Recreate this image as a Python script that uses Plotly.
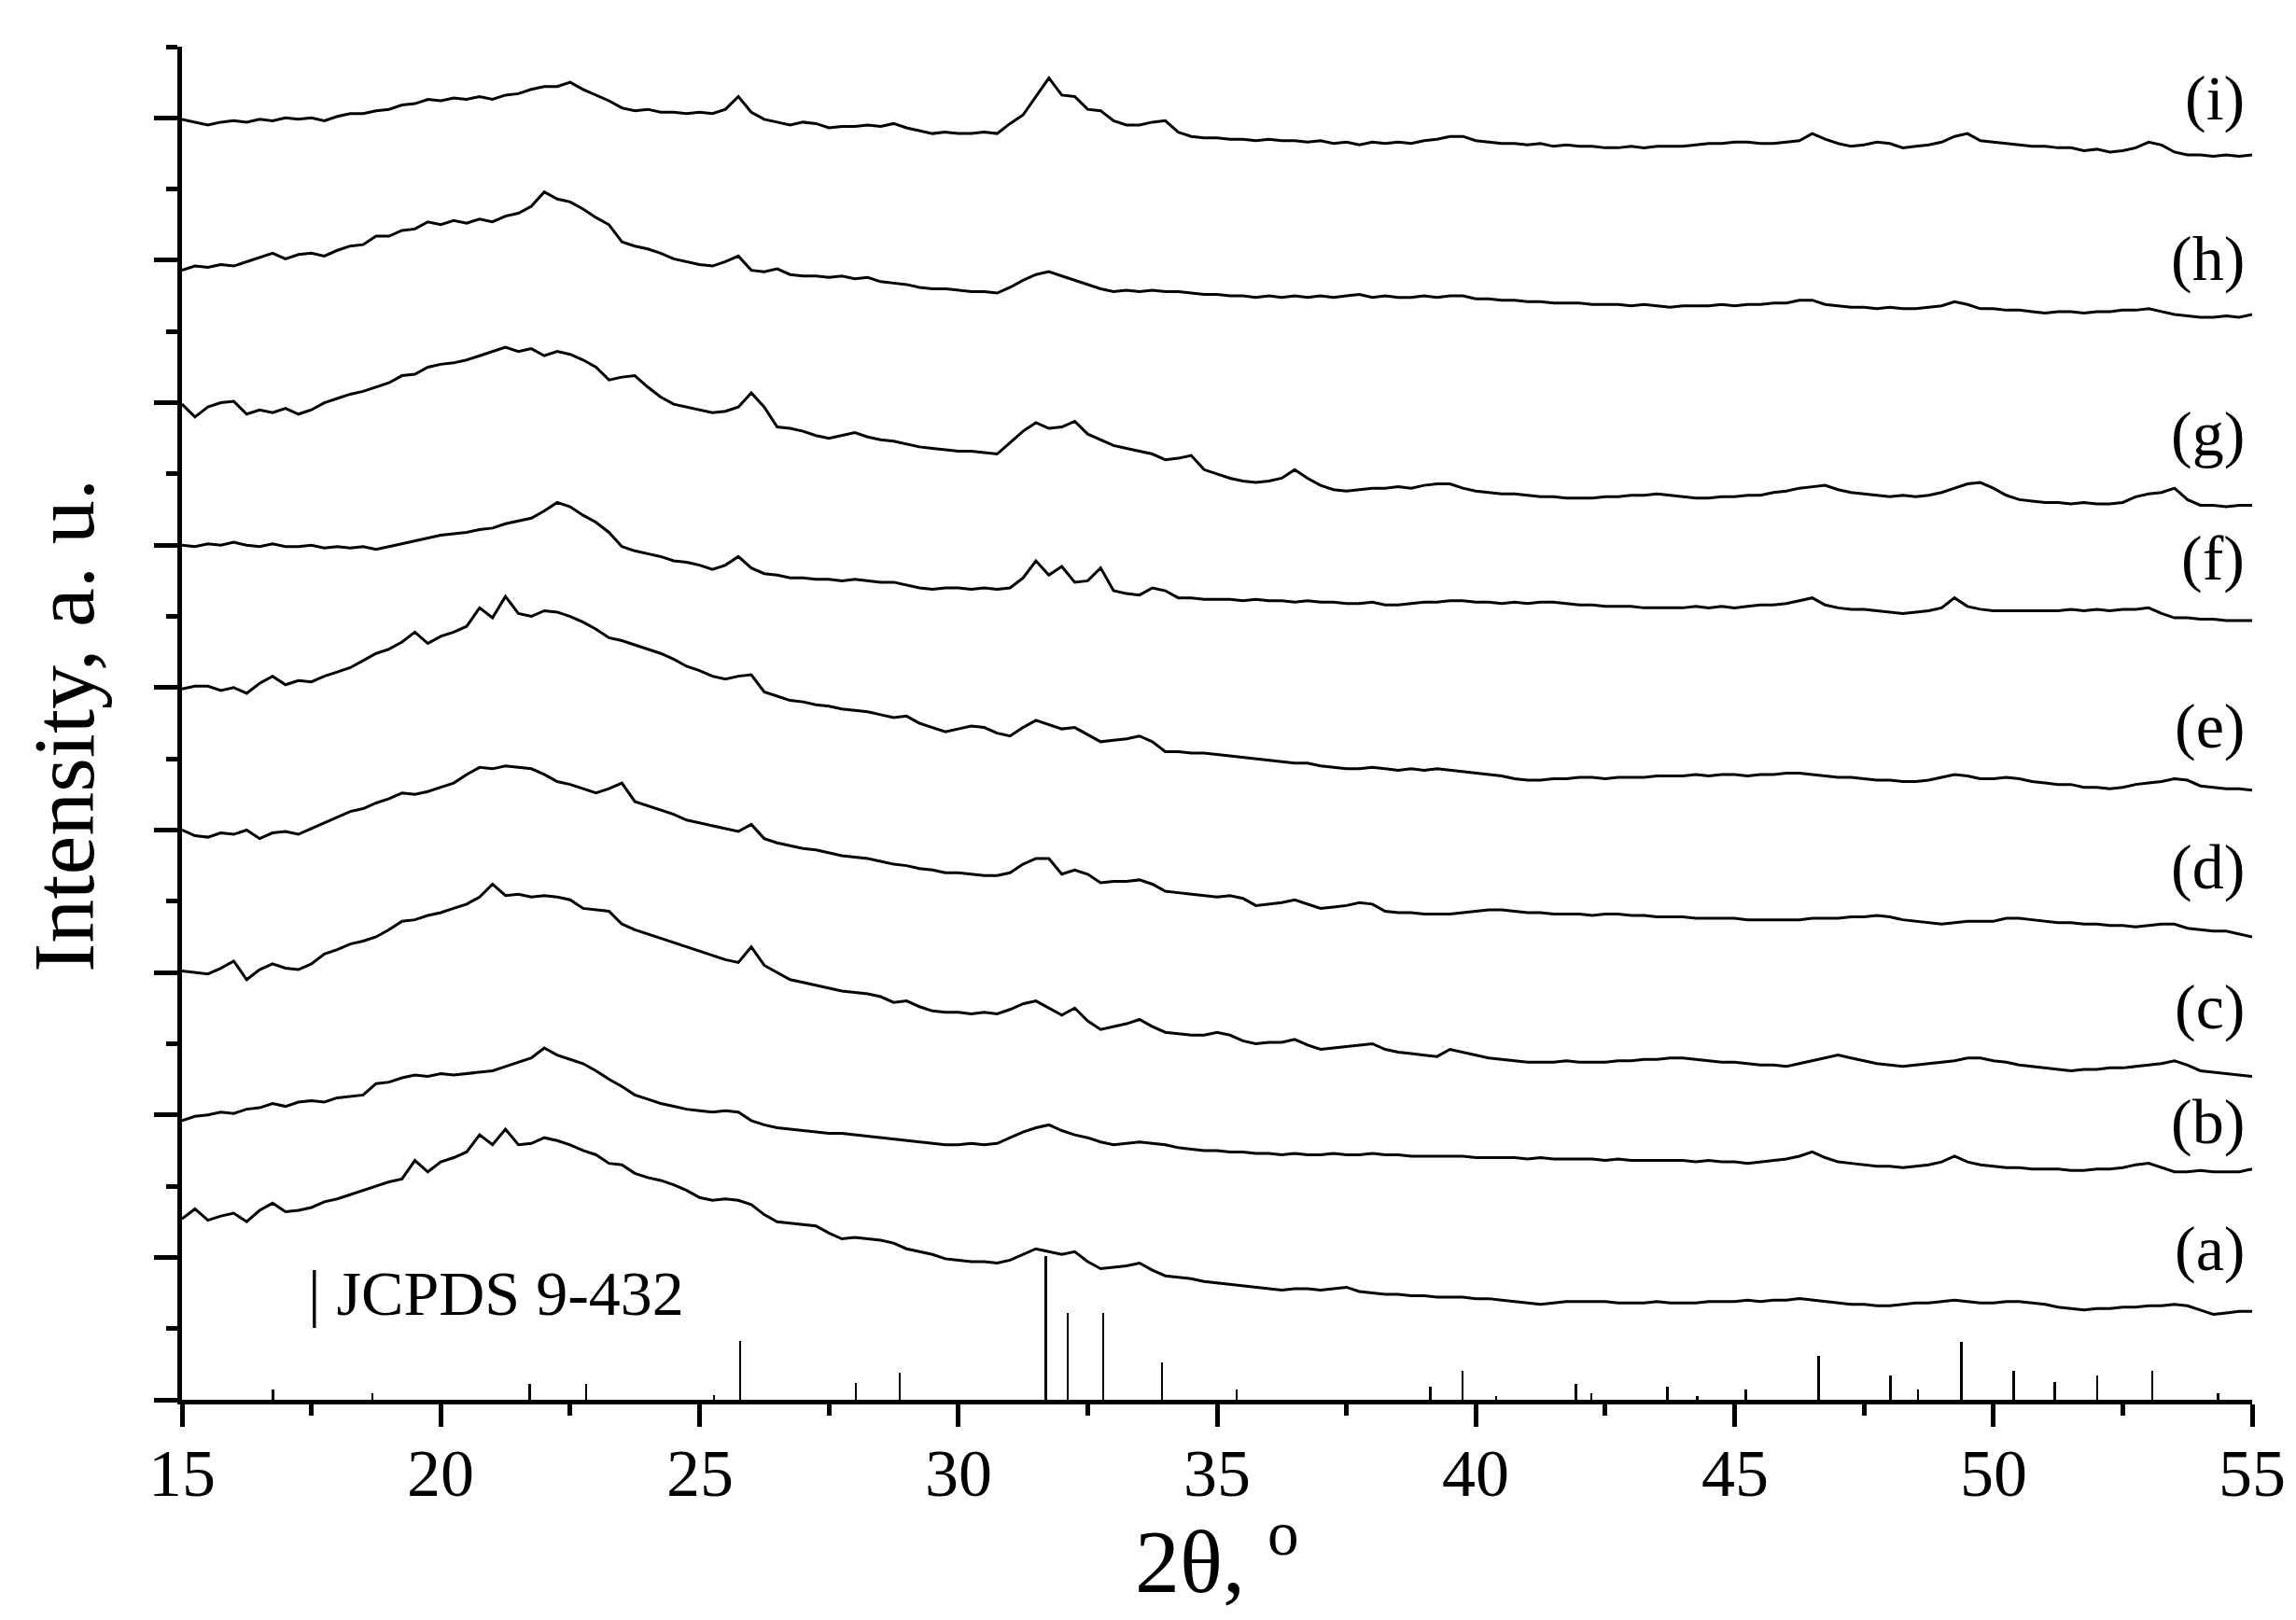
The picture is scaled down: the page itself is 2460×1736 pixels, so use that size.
import plotly.graph_objects as go

# 2-theta sampling grid (degrees)
two_theta = [
    15.00, 15.25, 15.50, 15.75, 16.00, 16.25, 16.50, 16.75, 17.00, 17.25, 17.50, 17.75, 18.00, 18.25, 18.50, 18.75, 19.00, 19.25, 19.50, 19.75,
    20.00, 20.25, 20.50, 20.75, 21.00, 21.25, 21.50, 21.75, 22.00, 22.25, 22.50, 22.75, 23.00, 23.25, 23.50, 23.75, 24.00, 24.25, 24.50, 24.75,
    25.00, 25.25, 25.50, 25.75, 26.00, 26.25, 26.50, 26.75, 27.00, 27.25, 27.50, 27.75, 28.00, 28.25, 28.50, 28.75, 29.00, 29.25, 29.50, 29.75,
    30.00, 30.25, 30.50, 30.75, 31.00, 31.25, 31.50, 31.75, 32.00, 32.25, 32.50, 32.75, 33.00, 33.25, 33.50, 33.75, 34.00, 34.25, 34.50, 34.75,
    35.00, 35.25, 35.50, 35.75, 36.00, 36.25, 36.50, 36.75, 37.00, 37.25, 37.50, 37.75, 38.00, 38.25, 38.50, 38.75, 39.00, 39.25, 39.50, 39.75,
    40.00, 40.25, 40.50, 40.75, 41.00, 41.25, 41.50, 41.75, 42.00, 42.25, 42.50, 42.75, 43.00, 43.25, 43.50, 43.75, 44.00, 44.25, 44.50, 44.75,
    45.00, 45.25, 45.50, 45.75, 46.00, 46.25, 46.50, 46.75, 47.00, 47.25, 47.50, 47.75, 48.00, 48.25, 48.50, 48.75, 49.00, 49.25, 49.50, 49.75,
    50.00, 50.25, 50.50, 50.75, 51.00, 51.25, 51.50, 51.75, 52.00, 52.25, 52.50, 52.75, 53.00, 53.25, 53.50, 53.75, 54.00, 54.25, 54.50, 54.75,
    55.00,
]

# Offset intensity patterns (a.u.)
curve_a = [
    1.27, 1.34, 1.26, 1.29, 1.31, 1.25, 1.33, 1.38, 1.32, 1.33, 1.35, 1.39, 1.41, 1.44, 1.47, 1.50, 1.53, 1.55, 1.68, 1.60,
    1.67, 1.70, 1.74, 1.86, 1.79, 1.90, 1.79, 1.80, 1.84, 1.82, 1.79, 1.75, 1.72, 1.66, 1.65, 1.59, 1.56, 1.54, 1.51, 1.47,
    1.42, 1.40, 1.41, 1.40, 1.37, 1.30, 1.25, 1.24, 1.23, 1.22, 1.17, 1.13, 1.14, 1.13, 1.12, 1.10, 1.06, 1.04, 1.02, 0.99,
    0.98, 0.97, 0.97, 0.96, 0.98, 1.02, 1.06, 1.04, 1.02, 1.04, 0.97, 0.92, 0.93, 0.94, 0.96, 0.91, 0.87, 0.86, 0.85, 0.83,
    0.82, 0.81, 0.80, 0.79, 0.78, 0.77, 0.78, 0.78, 0.77, 0.78, 0.79, 0.76, 0.75, 0.74, 0.74, 0.73, 0.73, 0.72, 0.72, 0.72,
    0.71, 0.71, 0.70, 0.69, 0.68, 0.67, 0.68, 0.69, 0.69, 0.69, 0.69, 0.68, 0.68, 0.68, 0.69, 0.68, 0.68, 0.68, 0.69, 0.69,
    0.69, 0.70, 0.69, 0.70, 0.70, 0.71, 0.70, 0.69, 0.68, 0.67, 0.67, 0.66, 0.66, 0.67, 0.68, 0.68, 0.69, 0.70, 0.69, 0.68,
    0.68, 0.69, 0.69, 0.68, 0.67, 0.65, 0.64, 0.63, 0.64, 0.64, 0.65, 0.65, 0.66, 0.66, 0.67, 0.66, 0.63, 0.60, 0.61, 0.62,
    0.62,
]
curve_b = [
    1.96, 1.99, 2.00, 2.02, 2.01, 2.04, 2.05, 2.08, 2.06, 2.09, 2.10, 2.09, 2.12, 2.13, 2.14, 2.22, 2.23, 2.26, 2.28, 2.27,
    2.29, 2.28, 2.29, 2.30, 2.31, 2.34, 2.37, 2.40, 2.47, 2.42, 2.39, 2.36, 2.31, 2.25, 2.20, 2.14, 2.11, 2.08, 2.06, 2.04,
    2.03, 2.02, 2.03, 2.02, 1.96, 1.93, 1.91, 1.90, 1.89, 1.88, 1.87, 1.87, 1.86, 1.85, 1.84, 1.83, 1.82, 1.81, 1.80, 1.79,
    1.79, 1.80, 1.79, 1.80, 1.84, 1.88, 1.91, 1.93, 1.89, 1.86, 1.84, 1.81, 1.79, 1.80, 1.81, 1.80, 1.79, 1.77, 1.76, 1.75,
    1.75, 1.74, 1.74, 1.73, 1.73, 1.72, 1.73, 1.72, 1.72, 1.73, 1.72, 1.72, 1.73, 1.72, 1.72, 1.71, 1.71, 1.71, 1.71, 1.71,
    1.70, 1.70, 1.70, 1.70, 1.69, 1.70, 1.69, 1.69, 1.69, 1.69, 1.68, 1.69, 1.68, 1.68, 1.68, 1.68, 1.68, 1.67, 1.68, 1.67,
    1.67, 1.66, 1.67, 1.68, 1.69, 1.71, 1.74, 1.70, 1.67, 1.66, 1.65, 1.64, 1.64, 1.63, 1.64, 1.65, 1.67, 1.71, 1.67, 1.65,
    1.64, 1.63, 1.63, 1.62, 1.62, 1.62, 1.61, 1.61, 1.62, 1.62, 1.63, 1.65, 1.66, 1.63, 1.60, 1.60, 1.61, 1.60, 1.60, 1.60,
    1.62,
]
curve_c = [
    3.01, 3.00, 2.99, 3.03, 3.08, 2.95, 3.02, 3.06, 3.03, 3.02, 3.06, 3.13, 3.16, 3.20, 3.22, 3.25, 3.30, 3.36, 3.37, 3.40,
    3.42, 3.45, 3.48, 3.53, 3.62, 3.54, 3.55, 3.53, 3.54, 3.53, 3.51, 3.45, 3.44, 3.43, 3.34, 3.30, 3.27, 3.24, 3.21, 3.18,
    3.15, 3.12, 3.09, 3.07, 3.18, 3.05, 3.00, 2.95, 2.93, 2.91, 2.89, 2.87, 2.86, 2.85, 2.83, 2.79, 2.80, 2.76, 2.73, 2.72,
    2.72, 2.71, 2.72, 2.71, 2.74, 2.78, 2.80, 2.75, 2.70, 2.75, 2.66, 2.60, 2.62, 2.64, 2.67, 2.62, 2.58, 2.57, 2.56, 2.56,
    2.58, 2.56, 2.52, 2.50, 2.51, 2.51, 2.53, 2.49, 2.46, 2.47, 2.48, 2.49, 2.50, 2.46, 2.44, 2.43, 2.42, 2.41, 2.46, 2.44,
    2.42, 2.40, 2.39, 2.38, 2.37, 2.37, 2.37, 2.38, 2.37, 2.37, 2.37, 2.38, 2.38, 2.39, 2.39, 2.40, 2.40, 2.39, 2.38, 2.37,
    2.37, 2.36, 2.35, 2.35, 2.34, 2.36, 2.38, 2.40, 2.42, 2.40, 2.38, 2.36, 2.35, 2.34, 2.35, 2.36, 2.37, 2.38, 2.40, 2.40,
    2.38, 2.37, 2.35, 2.34, 2.33, 2.32, 2.31, 2.32, 2.32, 2.33, 2.33, 2.34, 2.35, 2.36, 2.38, 2.35, 2.31, 2.30, 2.29, 2.28,
    2.27,
]
curve_d = [
    4.00, 3.96, 3.95, 3.98, 3.97, 4.00, 3.94, 3.98, 3.99, 3.97, 4.01, 4.05, 4.09, 4.13, 4.15, 4.19, 4.22, 4.26, 4.25, 4.27,
    4.30, 4.33, 4.39, 4.44, 4.43, 4.45, 4.44, 4.43, 4.39, 4.34, 4.32, 4.29, 4.26, 4.29, 4.33, 4.20, 4.17, 4.14, 4.11, 4.07,
    4.05, 4.03, 4.01, 3.99, 4.04, 3.94, 3.91, 3.89, 3.87, 3.86, 3.84, 3.82, 3.81, 3.80, 3.78, 3.76, 3.75, 3.73, 3.72, 3.70,
    3.70, 3.69, 3.68, 3.68, 3.70, 3.76, 3.80, 3.80, 3.69, 3.72, 3.69, 3.63, 3.64, 3.64, 3.65, 3.62, 3.57, 3.56, 3.55, 3.54,
    3.53, 3.54, 3.52, 3.47, 3.48, 3.49, 3.51, 3.48, 3.45, 3.46, 3.47, 3.49, 3.48, 3.43, 3.42, 3.42, 3.41, 3.41, 3.41, 3.42,
    3.43, 3.44, 3.44, 3.43, 3.42, 3.42, 3.41, 3.41, 3.41, 3.40, 3.41, 3.41, 3.40, 3.40, 3.39, 3.39, 3.39, 3.38, 3.38, 3.38,
    3.38, 3.37, 3.37, 3.37, 3.37, 3.37, 3.38, 3.38, 3.38, 3.39, 3.39, 3.40, 3.39, 3.37, 3.36, 3.35, 3.34, 3.35, 3.36, 3.36,
    3.36, 3.38, 3.38, 3.37, 3.36, 3.35, 3.35, 3.34, 3.34, 3.33, 3.33, 3.32, 3.33, 3.34, 3.34, 3.31, 3.30, 3.29, 3.29, 3.27,
    3.25,
]
curve_e = [
    4.99, 5.01, 5.01, 4.98, 5.00, 4.96, 5.03, 5.08, 5.02, 5.05, 5.04, 5.08, 5.11, 5.14, 5.19, 5.24, 5.27, 5.32, 5.39, 5.31,
    5.36, 5.39, 5.43, 5.56, 5.49, 5.64, 5.52, 5.50, 5.54, 5.53, 5.50, 5.46, 5.41, 5.35, 5.33, 5.30, 5.27, 5.24, 5.20, 5.15,
    5.12, 5.08, 5.06, 5.08, 5.09, 4.97, 4.94, 4.91, 4.90, 4.88, 4.87, 4.85, 4.84, 4.83, 4.81, 4.79, 4.80, 4.75, 4.72, 4.69,
    4.71, 4.73, 4.72, 4.68, 4.66, 4.72, 4.77, 4.74, 4.71, 4.72, 4.67, 4.62, 4.63, 4.64, 4.66, 4.62, 4.55, 4.55, 4.54, 4.54,
    4.53, 4.52, 4.51, 4.50, 4.49, 4.48, 4.47, 4.47, 4.45, 4.44, 4.43, 4.43, 4.44, 4.43, 4.42, 4.43, 4.42, 4.43, 4.42, 4.41,
    4.40, 4.39, 4.38, 4.36, 4.35, 4.35, 4.36, 4.36, 4.37, 4.37, 4.36, 4.37, 4.37, 4.37, 4.38, 4.38, 4.38, 4.39, 4.38, 4.39,
    4.39, 4.38, 4.39, 4.39, 4.40, 4.40, 4.39, 4.38, 4.37, 4.37, 4.36, 4.35, 4.35, 4.34, 4.34, 4.35, 4.37, 4.39, 4.38, 4.36,
    4.36, 4.37, 4.36, 4.34, 4.33, 4.32, 4.32, 4.30, 4.30, 4.29, 4.30, 4.32, 4.33, 4.34, 4.36, 4.35, 4.31, 4.30, 4.29, 4.29,
    4.28,
]
curve_f = [
    6.00, 5.99, 6.01, 6.00, 6.02, 6.00, 5.99, 6.01, 5.99, 5.99, 6.00, 5.98, 5.99, 5.98, 5.99, 5.97, 5.99, 6.01, 6.03, 6.05,
    6.07, 6.08, 6.09, 6.11, 6.12, 6.15, 6.17, 6.19, 6.24, 6.30, 6.27, 6.21, 6.16, 6.09, 5.99, 5.96, 5.94, 5.92, 5.89, 5.88,
    5.86, 5.83, 5.86, 5.92, 5.84, 5.80, 5.79, 5.77, 5.77, 5.76, 5.76, 5.75, 5.76, 5.75, 5.74, 5.74, 5.72, 5.70, 5.69, 5.70,
    5.70, 5.69, 5.70, 5.69, 5.70, 5.77, 5.89, 5.79, 5.85, 5.74, 5.75, 5.84, 5.68, 5.66, 5.65, 5.70, 5.68, 5.63, 5.63, 5.62,
    5.62, 5.62, 5.61, 5.62, 5.61, 5.61, 5.60, 5.61, 5.60, 5.60, 5.59, 5.59, 5.60, 5.58, 5.58, 5.59, 5.60, 5.60, 5.61, 5.61,
    5.60, 5.60, 5.59, 5.60, 5.59, 5.60, 5.60, 5.59, 5.58, 5.58, 5.57, 5.57, 5.57, 5.56, 5.56, 5.56, 5.56, 5.57, 5.56, 5.57,
    5.56, 5.57, 5.58, 5.58, 5.59, 5.61, 5.63, 5.58, 5.56, 5.55, 5.55, 5.54, 5.53, 5.52, 5.53, 5.54, 5.56, 5.63, 5.57, 5.55,
    5.54, 5.54, 5.54, 5.54, 5.54, 5.54, 5.55, 5.54, 5.55, 5.54, 5.55, 5.55, 5.56, 5.52, 5.49, 5.49, 5.48, 5.48, 5.47, 5.47,
    5.47,
]
curve_g = [
    6.99, 6.90, 6.97, 7.00, 7.01, 6.92, 6.95, 6.93, 6.96, 6.92, 6.95, 7.00, 7.03, 7.06, 7.08, 7.11, 7.14, 7.19, 7.20, 7.25,
    7.27, 7.28, 7.30, 7.33, 7.36, 7.39, 7.36, 7.38, 7.33, 7.36, 7.34, 7.30, 7.25, 7.16, 7.18, 7.19, 7.11, 7.04, 6.99, 6.97,
    6.95, 6.93, 6.94, 6.97, 7.07, 6.97, 6.83, 6.82, 6.80, 6.77, 6.75, 6.77, 6.79, 6.76, 6.74, 6.73, 6.71, 6.69, 6.68, 6.67,
    6.66, 6.66, 6.65, 6.64, 6.72, 6.80, 6.86, 6.82, 6.83, 6.87, 6.78, 6.74, 6.70, 6.68, 6.66, 6.64, 6.60, 6.61, 6.63, 6.53,
    6.50, 6.47, 6.45, 6.44, 6.45, 6.47, 6.53, 6.47, 6.42, 6.39, 6.38, 6.39, 6.40, 6.40, 6.41, 6.40, 6.42, 6.43, 6.43, 6.40,
    6.38, 6.37, 6.36, 6.36, 6.35, 6.34, 6.34, 6.33, 6.33, 6.33, 6.34, 6.34, 6.35, 6.35, 6.36, 6.35, 6.34, 6.33, 6.33, 6.34,
    6.34, 6.35, 6.35, 6.37, 6.38, 6.40, 6.41, 6.42, 6.39, 6.37, 6.36, 6.35, 6.34, 6.35, 6.34, 6.35, 6.37, 6.40, 6.43, 6.44,
    6.40, 6.35, 6.32, 6.31, 6.30, 6.30, 6.29, 6.30, 6.29, 6.29, 6.30, 6.34, 6.36, 6.37, 6.40, 6.32, 6.28, 6.28, 6.27, 6.28,
    6.28,
]
curve_h = [
    7.93, 7.96, 7.95, 7.97, 7.96, 7.99, 8.02, 8.05, 8.01, 8.04, 8.05, 8.03, 8.07, 8.10, 8.11, 8.17, 8.17, 8.21, 8.22, 8.27,
    8.25, 8.28, 8.26, 8.29, 8.27, 8.31, 8.33, 8.38, 8.48, 8.43, 8.41, 8.36, 8.30, 8.25, 8.13, 8.10, 8.08, 8.05, 8.01, 7.99,
    7.97, 7.96, 7.99, 8.03, 7.93, 7.92, 7.94, 7.90, 7.89, 7.89, 7.88, 7.89, 7.87, 7.88, 7.85, 7.84, 7.83, 7.81, 7.80, 7.80,
    7.79, 7.78, 7.78, 7.77, 7.81, 7.86, 7.90, 7.92, 7.89, 7.86, 7.83, 7.80, 7.78, 7.79, 7.78, 7.79, 7.78, 7.78, 7.77, 7.76,
    7.76, 7.75, 7.75, 7.74, 7.75, 7.74, 7.75, 7.74, 7.75, 7.74, 7.75, 7.76, 7.74, 7.75, 7.74, 7.74, 7.75, 7.74, 7.75, 7.75,
    7.73, 7.73, 7.72, 7.72, 7.71, 7.71, 7.70, 7.70, 7.70, 7.69, 7.69, 7.69, 7.68, 7.69, 7.68, 7.67, 7.68, 7.68, 7.68, 7.69,
    7.68, 7.69, 7.69, 7.70, 7.70, 7.72, 7.72, 7.69, 7.68, 7.67, 7.67, 7.66, 7.67, 7.66, 7.66, 7.67, 7.68, 7.71, 7.69, 7.66,
    7.66, 7.65, 7.65, 7.64, 7.63, 7.64, 7.64, 7.63, 7.64, 7.64, 7.65, 7.65, 7.66, 7.64, 7.62, 7.61, 7.60, 7.60, 7.61, 7.60,
    7.62,
]
curve_i = [
    8.99, 8.97, 8.95, 8.97, 8.98, 8.97, 8.99, 8.98, 9.00, 8.99, 9.00, 8.98, 9.01, 9.03, 9.03, 9.05, 9.06, 9.09, 9.10, 9.13,
    9.12, 9.14, 9.13, 9.15, 9.13, 9.16, 9.17, 9.20, 9.22, 9.22, 9.25, 9.20, 9.16, 9.12, 9.07, 9.05, 9.06, 9.04, 9.04, 9.03,
    9.04, 9.03, 9.06, 9.15, 9.04, 8.99, 8.97, 8.95, 8.97, 8.96, 8.93, 8.94, 8.94, 8.95, 8.94, 8.96, 8.93, 8.91, 8.89, 8.90,
    8.89, 8.89, 8.90, 8.89, 8.96, 9.02, 9.15, 9.28, 9.16, 9.15, 9.06, 9.05, 8.98, 8.95, 8.95, 8.97, 8.98, 8.90, 8.87, 8.86,
    8.86, 8.85, 8.85, 8.84, 8.85, 8.84, 8.84, 8.83, 8.84, 8.82, 8.83, 8.81, 8.83, 8.82, 8.83, 8.82, 8.84, 8.85, 8.87, 8.87,
    8.84, 8.83, 8.82, 8.82, 8.81, 8.82, 8.80, 8.81, 8.80, 8.80, 8.79, 8.79, 8.80, 8.79, 8.80, 8.80, 8.80, 8.81, 8.82, 8.82,
    8.83, 8.83, 8.82, 8.82, 8.83, 8.84, 8.89, 8.85, 8.82, 8.80, 8.81, 8.83, 8.82, 8.79, 8.80, 8.81, 8.83, 8.87, 8.89, 8.84,
    8.83, 8.82, 8.81, 8.80, 8.80, 8.79, 8.79, 8.77, 8.78, 8.76, 8.77, 8.79, 8.83, 8.81, 8.76, 8.74, 8.74, 8.73, 8.74, 8.73,
    8.74,
]

curve_labels = ["(a)", "(b)", "(c)", "(d)", "(e)", "(f)", "(g)", "(h)", "(i)"]
label_levels = [1.06, 1.95, 2.76, 3.74, 4.73, 5.91, 6.78, 8.01, 9.14]

# x-axis tick values and their labels
x_tick_vals = [15, 20, 25, 30, 35, 40, 45, 50, 55]
x_tick_text = ["15", "20", "25", "30", "35", "40", "45", "50", "55"]

# JCPDS 9-432 reference lines: position (deg) and relative height
ref_pos = [16.76, 18.68, 21.72, 22.81, 25.28, 25.78, 28.02, 28.87, 31.69, 32.11,
           32.80, 33.94, 35.38, 39.12, 39.74, 40.39, 41.93, 42.23, 43.70, 44.28,
           45.22, 46.62, 48.01, 48.54, 49.38, 50.39, 51.19, 52.01, 53.07, 54.34]
ref_height = [0.072, 0.047, 0.111, 0.111, 0.030, 0.413, 0.121, 0.189, 1.006, 0.607,
              0.607, 0.260, 0.069, 0.092, 0.206, 0.025, 0.111, 0.047, 0.092, 0.025,
              0.069, 0.309, 0.170, 0.069, 0.408, 0.206, 0.126, 0.170, 0.206, 0.047]

FONT = "Liberation Serif, Times New Roman, serif"

fig = go.Figure()

fig.add_trace(go.Bar(x=ref_pos, y=ref_height, width=0.045,
                     marker=dict(color="black", line=dict(width=0)),
                     showlegend=False, hoverinfo="skip"))

for series in [curve_a, curve_b, curve_c, curve_d, curve_e, curve_f, curve_g, curve_h, curve_i]:
    fig.add_trace(go.Scatter(x=two_theta, y=series, mode="lines",
                             line=dict(color="black", width=3),
                             showlegend=False, hoverinfo="skip"))

annotations = []
for lab, lev in zip(curve_labels, label_levels):
    annotations.append(dict(x=55, y=lev, xref="x", yref="y", text=lab, showarrow=False,
                            xanchor="right", yanchor="middle", xshift=-6,
                            font=dict(family=FONT, size=68, color="black")))

# x tick labels placed just below the tick marks
for tv, tt in zip(x_tick_vals, x_tick_text):
    annotations.append(dict(x=tv, y=-0.0545, xref="x", yref="paper", text=tt,
                            showarrow=False, xanchor="center", yanchor="middle",
                            font=dict(family=FONT, size=72, color="black")))

annotations.append(dict(x=17.40, y=0.745, xref="x", yref="y", text="| JCPDS 9-432",
                        showarrow=False, xanchor="left", yanchor="middle",
                        font=dict(family=FONT, size=68, color="black")))

annotations.append(dict(x=0.5, y=-0.115, xref="paper", yref="paper",
                        text="2θ, <sup>o</sup>", showarrow=False,
                        xanchor="center", yanchor="middle",
                        font=dict(family=FONT, size=96, color="black")))

annotations.append(dict(x=-0.0573, y=0.4986, xref="paper", yref="paper",
                        text="Intensity, a. u.", showarrow=False, textangle=-90,
                        xanchor="center", yanchor="middle",
                        font=dict(family=FONT, size=94, color="black")))

fig.update_layout(
    width=2460, height=1736,
    margin=dict(l=187, r=55, t=42, b=244),
    paper_bgcolor="white", plot_bgcolor="white",
    bargap=0,
    annotations=annotations,
    xaxis=dict(range=[15, 55], tickvals=x_tick_vals,
               showline=True, linewidth=5, linecolor="black",
               ticks="outside", ticklen=24, tickwidth=4.5, tickcolor="black",
               showticklabels=False,
               minor=dict(dtick=2.5, ticks="outside", ticklen=12, tickwidth=4.5, tickcolor="black"),
               showgrid=False, zeroline=False),
    yaxis=dict(range=[0, 9.5], tick0=0, dtick=1,
               showline=True, linewidth=5, linecolor="black",
               ticks="outside", ticklen=25, tickwidth=4.5, tickcolor="black",
               minor=dict(dtick=0.5, ticks="outside", ticklen=12, tickwidth=4.5, tickcolor="black"),
               showticklabels=False, showgrid=False, zeroline=False),
)

fig.write_html("out.html")
